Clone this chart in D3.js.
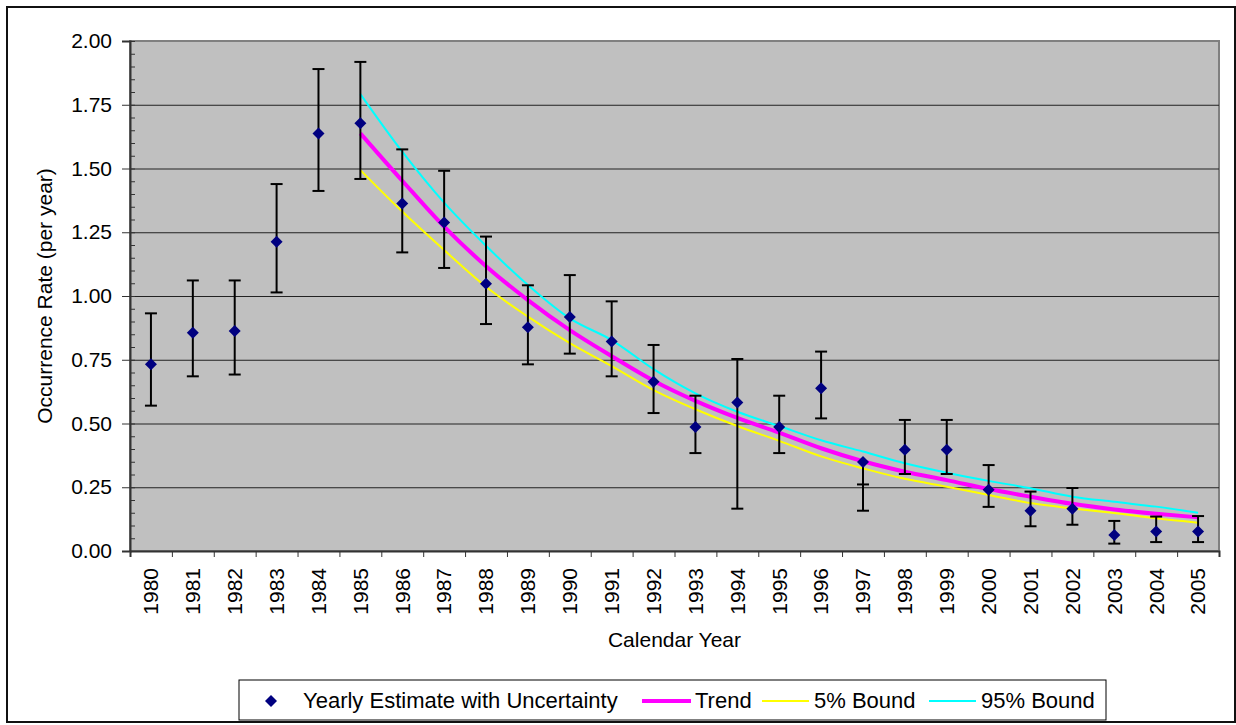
<!DOCTYPE html>
<html>
<head>
<meta charset="utf-8">
<script src="https://cdn.jsdelivr.net/npm/d3@7"></script>
<style>
  body { margin: 0; background: white; }
  svg text { font-family: "Liberation Sans", Arial, sans-serif; fill: #000; }
</style>
</head>
<body>
<div id="chart"></div>
<script>
// yearly estimates with uncertainty (occurrence rate per year)
const years = [1980, 1981, 1982, 1983, 1984, 1985, 1986, 1987, 1988, 1989, 1990, 1991, 1992,
  1993, 1994, 1995, 1996, 1997, 1998, 1999, 2000, 2001, 2002, 2003, 2004, 2005];
const estimate = [0.732, 0.856, 0.863, 1.213, 1.637, 1.677, 1.363, 1.288, 1.048, 0.877, 0.918, 0.822, 0.664,
  0.486, 0.582, 0.486, 0.638, 0.349, 0.397, 0.397, 0.240, 0.158, 0.166, 0.063, 0.076, 0.076];
const errPlus = [0.932, 1.061, 1.061, 1.439, 1.890, 1.918, 1.575, 1.491, 1.233, 1.042, 1.082, 0.979, 0.808,
  0.609, 0.753, 0.609, 0.782, 0.261, 0.514, 0.514, 0.337, 0.233, 0.247, 0.118, 0.135, 0.137];
const errMinus = [0.570, 0.685, 0.692, 1.014, 1.412, 1.459, 1.171, 1.110, 0.890, 0.732, 0.774, 0.685, 0.541,
  0.384, 0.166, 0.384, 0.520, 0.158, 0.302, 0.302, 0.173, 0.097, 0.103, 0.029, 0.035, 0.035];

// fitted trend and bounds, 1985 - 2005
const trendYears = [1985, 1986, 1987, 1988, 1989, 1990, 1991, 1992, 1993, 1994, 1995,
  1996, 1997, 1998, 1999, 2000, 2001, 2002, 2003, 2004, 2005];
const trend = [1.638, 1.452, 1.272, 1.117, 0.984, 0.866, 0.764, 0.668, 0.589, 0.522, 0.464,
  0.403, 0.352, 0.311, 0.278, 0.243, 0.213, 0.185, 0.163, 0.146, 0.132];
const bound5 = [1.494, 1.331, 1.180, 1.036, 0.919, 0.815, 0.725, 0.631, 0.556, 0.490, 0.432,
  0.371, 0.324, 0.283, 0.252, 0.220, 0.188, 0.167, 0.149, 0.128, 0.111];
const bound95 = [1.792, 1.566, 1.366, 1.197, 1.043, 0.912, 0.827, 0.713, 0.618, 0.546, 0.490,
  0.434, 0.390, 0.344, 0.307, 0.275, 0.246, 0.213, 0.193, 0.174, 0.150];

const yTicks = [0, 0.25, 0.5, 0.75, 1.0, 1.25, 1.5, 1.75, 2.0];

const W = 1236, H = 725;
const PLOT = { LEFT: 130, RIGHT: 1219, TOP: 41, BOTTOM: 551 };

const svg = d3.select("#chart").append("svg")
  .attr("width", W).attr("height", H);

// outer chart frame
svg.append("rect")
  .attr("x", 7).attr("y", 7)
  .attr("width", 1228).attr("height", 715)
  .attr("fill", "white").attr("stroke", "#111").attr("stroke-width", 2);

const x = d3.scaleBand().domain(years).range([PLOT.LEFT, PLOT.RIGHT]).padding(0);
const xEdge = d3.scaleLinear().domain([0, years.length]).range([PLOT.LEFT, PLOT.RIGHT]);
const y = d3.scaleLinear().domain([0, 2]).range([PLOT.BOTTOM, PLOT.TOP]);
const cx = (yr) => x(yr) + x.bandwidth() / 2;

// plot area
svg.append("rect")
  .attr("x", PLOT.LEFT).attr("y", PLOT.TOP)
  .attr("width", PLOT.RIGHT - PLOT.LEFT).attr("height", PLOT.BOTTOM - PLOT.TOP)
  .attr("fill", "#c0c0c0").attr("stroke", "#808080").attr("stroke-width", 2);

// gridlines
svg.append("g")
  .attr("transform", `translate(${PLOT.LEFT},0)`)
  .call(d3.axisLeft(y).tickValues(yTicks.slice(1, -1)).tickSize(-(PLOT.RIGHT - PLOT.LEFT)).tickFormat(""))
  .call((g) => g.select(".domain").remove())
  .selectAll("line").attr("stroke", "#222").attr("stroke-width", 1);

// y axis: major ticks outside, minor ticks inside
const minorTicks = d3.range(0, 41).map((i) => i * 0.05);
svg.append("g")
  .attr("transform", `translate(${PLOT.LEFT},0)`)
  .call(d3.axisLeft(y).tickValues(minorTicks).tickSize(-5).tickFormat(""))
  .call((g) => g.select(".domain").remove())
  .selectAll("line").attr("stroke", "#333");

const yAxis = svg.append("g")
  .attr("transform", `translate(${PLOT.LEFT},0)`)
  .call(d3.axisLeft(y).tickValues(yTicks).tickSize(8).tickPadding(10).tickFormat(d3.format(".2f")));
yAxis.select(".domain").attr("stroke", "#333").attr("stroke-width", 2);
yAxis.selectAll("line").attr("stroke", "#333");
yAxis.selectAll("text").attr("font-size", 21).attr("font-family", "Liberation Sans, Arial, sans-serif");

// x axis: ticks at category edges, rotated year labels
const xTicks = svg.append("g")
  .attr("transform", `translate(0,${PLOT.BOTTOM})`)
  .call(d3.axisBottom(xEdge).tickValues(d3.range(0, years.length + 1)).tickSize(6).tickFormat(""));
xTicks.select(".domain").attr("stroke", "#333").attr("stroke-width", 2);
xTicks.selectAll("line").attr("stroke", "#333");

const xLabels = svg.append("g")
  .attr("transform", `translate(0,${PLOT.BOTTOM})`)
  .call(d3.axisBottom(x).tickSize(0).tickFormat(d3.format("d")));
xLabels.select(".domain").remove();
xLabels.selectAll("text")
  .attr("font-size", 21)
  .attr("font-family", "Liberation Sans, Arial, sans-serif")
  .attr("transform", "rotate(-90)")
  .attr("x", -17)
  .attr("y", 0)
  .attr("dy", "0.35em")
  .attr("text-anchor", "end");

// axis titles
svg.append("text")
  .attr("transform", `translate(45,${(PLOT.TOP + PLOT.BOTTOM) / 2}) rotate(-90)`)
  .attr("text-anchor", "middle")
  .attr("dy", "0.35em")
  .attr("font-size", 21)
  .text("Occurrence Rate (per year)");

svg.append("text")
  .attr("x", (PLOT.LEFT + PLOT.RIGHT) / 2)
  .attr("y", 647)
  .attr("text-anchor", "middle")
  .attr("font-size", 21)
  .text("Calendar Year");

// trend and bounds
const line = d3.line()
  .x((d) => cx(d[0]))
  .y((d) => y(d[1]))
  .curve(d3.curveMonotoneX);

const series = [
  { values: bound5, color: "#ffff00", width: 2 },
  { values: bound95, color: "#00ffff", width: 2 },
  { values: trend, color: "#ff00ff", width: 4 },
];
series.forEach((s) => {
  svg.append("path")
    .attr("d", line(trendYears.map((yr, i) => [yr, s.values[i]])))
    .attr("fill", "none")
    .attr("stroke", s.color)
    .attr("stroke-width", s.width);
});

// error bars
const pts = years.map((yr, i) => ({ yr, v: estimate[i], hi: errPlus[i], lo: errMinus[i] }));
const eb = svg.append("g").attr("stroke", "#000").attr("stroke-width", 2);
eb.selectAll(".stem").data(pts).enter().append("line")
  .attr("x1", (d) => cx(d.yr)).attr("x2", (d) => cx(d.yr))
  .attr("y1", (d) => y(Math.max(d.v, d.hi, d.lo)))
  .attr("y2", (d) => y(Math.min(d.v, d.hi, d.lo)));
eb.selectAll(".capHi").data(pts).enter().append("line")
  .attr("x1", (d) => cx(d.yr) - 6).attr("x2", (d) => cx(d.yr) + 6)
  .attr("y1", (d) => y(d.hi)).attr("y2", (d) => y(d.hi));
eb.selectAll(".capLo").data(pts).enter().append("line")
  .attr("x1", (d) => cx(d.yr) - 6).attr("x2", (d) => cx(d.yr) + 6)
  .attr("y1", (d) => y(d.lo)).attr("y2", (d) => y(d.lo));

// diamond markers
const diamond = "M0,-6L6,0L0,6L-6,0Z";
svg.selectAll(".pt").data(pts).enter().append("path")
  .attr("d", diamond)
  .attr("transform", (d) => `translate(${cx(d.yr)},${y(d.v)})`)
  .attr("fill", "#000080");

// legend
const lg = svg.append("g");
lg.append("rect")
  .attr("x", 239).attr("y", 680).attr("width", 867).attr("height", 40)
  .attr("fill", "white").attr("stroke", "#000").attr("stroke-width", 1);
lg.append("path").attr("d", diamond).attr("transform", "translate(271,701)").attr("fill", "#000080");
const legendItems = [
  { label: "Yearly Estimate with Uncertainty", tx: 303 },
  { label: "Trend", x0: 642, x1: 691, tx: 695, color: "#ff00ff", width: 4 },
  { label: "5% Bound", x0: 762, x1: 809, tx: 814, color: "#ffff00", width: 2 },
  { label: "95% Bound", x0: 929, x1: 976, tx: 981, color: "#00ffff", width: 2 },
];
legendItems.forEach((it) => {
  if (it.color) {
    lg.append("line")
      .attr("x1", it.x0).attr("x2", it.x1).attr("y1", 701).attr("y2", 701)
      .attr("stroke", it.color).attr("stroke-width", it.width);
  }
  lg.append("text")
    .attr("x", it.tx).attr("y", 708)
    .attr("font-size", 22)
    .text(it.label);
});
</script>
</body>
</html>
